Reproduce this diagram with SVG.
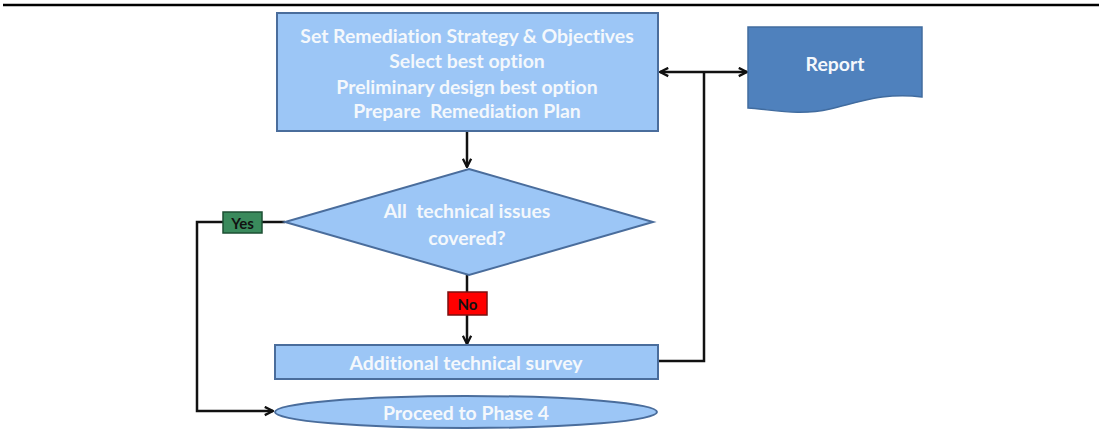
<svg xmlns="http://www.w3.org/2000/svg" width="1099" height="430" viewBox="0 0 1099 430">
  <defs>
    <style>
      .box { fill: #9cc6f6; stroke: #4a6d9c; stroke-width: 2; }
      .lbl { font-family: Lato, "Liberation Sans", sans-serif; font-weight: bold; font-size: 19.4px; fill: #f4f8fc; text-anchor: middle; dominant-baseline: central; font-variant-ligatures: none; white-space: pre; }
      .tag { font-family: Lato, "Liberation Sans", sans-serif; font-weight: bold; font-size: 15px; fill: #111; text-anchor: middle; dominant-baseline: central; }
      .wire { fill: none; stroke: #111; stroke-width: 2.5; }
    </style>
    <marker id="arrow" viewBox="0 0 12 12" refX="10.5" refY="6" markerWidth="11" markerHeight="11" orient="auto-start-reverse" markerUnits="userSpaceOnUse">
      <path d="M1.5,1.5 L10.5,6 L1.5,10.5" fill="none" stroke="#111" stroke-width="2.5"/>
    </marker>
  </defs>

  <!-- page rule -->
  <line x1="3" y1="5" x2="1099" y2="5" stroke="#000" stroke-width="2.5"/>

  <!-- connectors -->
  <g id="connectors">
    <line class="wire" x1="467" y1="132" x2="467" y2="167" marker-end="url(#arrow)"/>
    <line class="wire" x1="467" y1="275" x2="467" y2="344" marker-end="url(#arrow)"/>
    <polyline class="wire" points="285,222 197,222 197,411 273,411" marker-end="url(#arrow)"/>
    <polyline class="wire" points="658,361 704,361 704,72"/>
    <line class="wire" x1="660" y1="72" x2="747" y2="72" marker-start="url(#arrow)" marker-end="url(#arrow)"/>
  </g>

  <g id="plan">
    <rect class="box" x="277" y="13" width="381" height="118" stroke-width="2.5"/>
    <text class="lbl" x="467" y="35">Set Remediation Strategy &amp; Objectives</text>
    <text class="lbl" x="467" y="60">Select best option</text>
    <text class="lbl" x="467" y="86">Preliminary design best option</text>
    <text class="lbl" x="467" y="110">Prepare  Remediation Plan</text>
  </g>

  <g id="report">
    <path d="M748,27 L922,27 L922,97 C885,92 860,102 830,109 C800,116 775,110 748,108 Z" fill="#4f81bd" stroke="#416c9f" stroke-width="1.5"/>
    <text class="lbl" x="835" y="63">Report</text>
  </g>

  <g id="decision">
    <polygon class="box" points="469,169 653,222 469,275 285,222"/>
    <text class="lbl" x="467" y="210">All  technical issues</text>
    <text class="lbl" x="467" y="237">covered?</text>
  </g>

  <g id="yes">
    <rect x="223" y="212" width="39" height="21" fill="#3a8a5c" stroke="#1d4f33" stroke-width="1.5"/>
    <text class="tag" x="242.5" y="222.5">Yes</text>
  </g>

  <g id="no">
    <rect x="448" y="292" width="39" height="23" fill="#ff0000" stroke="#7a1010" stroke-width="1.5"/>
    <text class="tag" x="467.5" y="303.5">No</text>
  </g>

  <g id="survey">
    <rect class="box" x="275" y="345" width="383" height="34"/>
    <text class="lbl" x="466" y="362">Additional technical survey</text>
  </g>

  <g id="phase4">
    <ellipse class="box" cx="466" cy="412" rx="191" ry="16"/>
    <text class="lbl" x="466" y="412">Proceed to Phase 4</text>
  </g>
</svg>
